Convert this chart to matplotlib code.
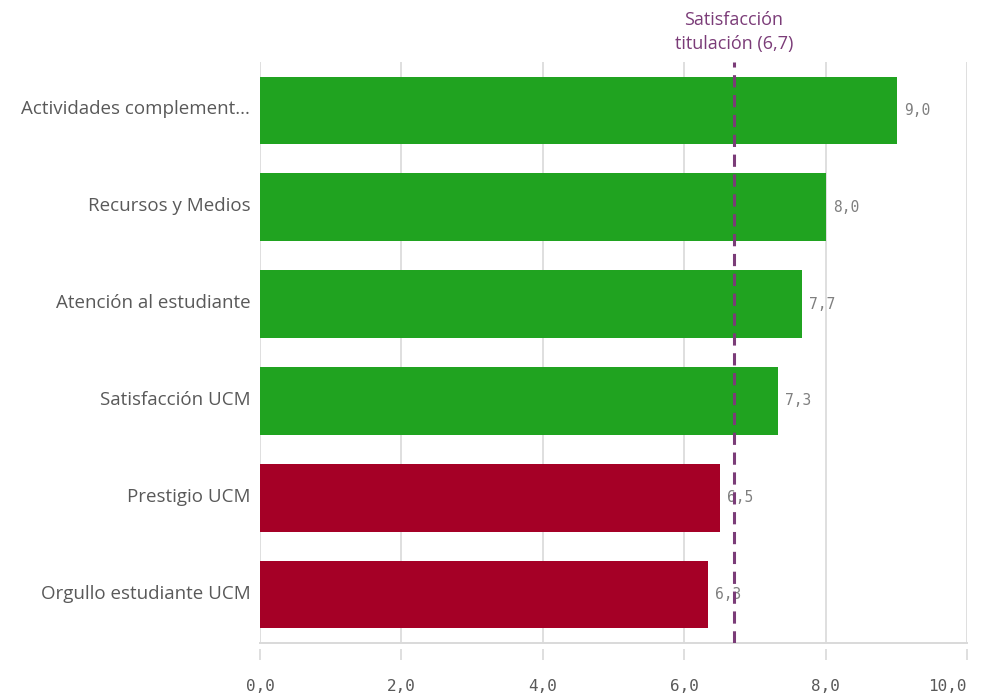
import matplotlib
matplotlib.use("Agg")
import matplotlib.pyplot as plt
import matplotlib.transforms as mtransforms
import numpy as np

categories = ["Actividades complement...", "Recursos y Medios", "Atención al estudiante",
              "Satisfacción UCM", "Prestigio UCM", "Orgullo estudiante UCM"]
values = [9.01, 8.0, 7.67, 7.33, 6.5, 6.33]
value_labels = ["9,0", "8,0", "7,7", "7,3", "6,5", "6,3"]
reference = 6.7
reference_label = "Satisfacción\ntitulación (6,7)"
xticks = [0, 2, 4, 6, 8, 10]
xtick_labels = ["0,0", "2,0", "4,0", "6,0", "8,0", "10,0"]

green = "#20a320"
red = "#a50026"
purple = "#7b3c78"
grey_text = "#595959"
grid_col = "#d9d9d9"

colors = [green if v >= reference else red for v in values]

fig = plt.figure(figsize=(9.85, 6.96), dpi=100)
ax = fig.add_axes([260 / 985, 1 - 643 / 696, 707 / 985, 581 / 696])

y = np.arange(len(categories))
ax.barh(y, values, height=0.7, color=colors, zorder=2)
ax.set_ylim(len(categories) - 0.5, -0.5)
ax.set_xlim(0, 10)

# value labels
for yi, v, lab in zip(y, values, value_labels):
    ax.text(v + 0.1, yi, lab, va="center", ha="left", fontsize=10.5,
            family="DejaVu Sans Mono", color="#7f7f7f", zorder=1)

# reference line
ax.axvline(reference, color=purple, linestyle=(0, (4, 2.5)), linewidth=2.2, zorder=3)
ax.text(reference, 1.0 + 9 / 581, reference_label, transform=ax.get_xaxis_transform(),
        ha="center", va="bottom", fontsize=13, color=purple, family="Open Sans",
        linespacing=1.4)

# axis styling (spine position first: it resets the ticks)
for s in ["top", "right", "left"]:
    ax.spines[s].set_visible(False)
ax.spines["bottom"].set_position(("outward", 4))
ax.spines["bottom"].set_visible(False)
ax.plot([0, 1], [0, 0], transform=ax.transAxes, color=grid_col, linewidth=1.4, clip_on=False)

ax.set_xticks(xticks)
ax.set_xticklabels(xtick_labels, family="DejaVu Sans Mono", fontsize=11.5, color=grey_text)
ax.get_xticklabels()[-1].set_ha("right")
ax.xaxis.grid(True, color=grid_col, linewidth=1.2, zorder=0)
ax.set_axisbelow(True)
ax.tick_params(axis="x", length=8, width=1.2, color=grid_col, pad=14)

ax.set_yticks(y)
ax.set_yticklabels(categories, family="Open Sans", fontsize=13.5, color=grey_text)
ax.tick_params(axis="y", length=0, pad=7)
shift = mtransforms.ScaledTranslation(0, 3 / 100, fig.dpi_scale_trans)
for lbl in ax.get_yticklabels():
    lbl.set_transform(lbl.get_transform() + shift)

fig.savefig("out.png", dpi=100)
